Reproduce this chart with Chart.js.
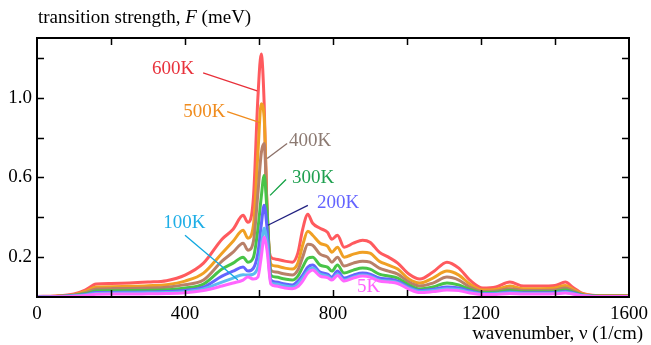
<!DOCTYPE html>
<html>
<head>
<meta charset="utf-8">
<script src="https://cdn.jsdelivr.net/npm/chart.js@4/dist/chart.umd.min.js"></script>
<style>
  html, body { margin: 0; padding: 0; background: #fff; }
  #wrap { width: 651px; height: 345px; }
</style>
</head>
<body>
<div id="wrap"><canvas id="spectra" width="651" height="345"></canvas></div>
<script>
// wavenumber grid (1/cm)
const wavenumbers = [0, 50, 100, 130, 160, 200, 250, 300, 350, 400, 450, 500, 530, 557, 570, 585, 597, 606, 614, 622,
  632, 645, 670, 690, 705, 718, 732, 745, 765, 785, 797, 812, 830, 855, 880, 900, 925, 950, 975, 1005,
  1035, 1070, 1108, 1140, 1170, 1205, 1240, 1278, 1315, 1360, 1400, 1428, 1447, 1475, 1500, 1550, 1600];

// transition strength F (meV) per temperature
const f600K = [0.003, 0.005, 0.015, 0.035, 0.065, 0.068, 0.07, 0.075, 0.082, 0.11, 0.17, 0.29, 0.34, 0.41, 0.375, 0.5, 1.0, 1.22, 0.97, 0.4,
  0.2, 0.19, 0.18, 0.175, 0.22, 0.34, 0.415, 0.37, 0.345, 0.325, 0.29, 0.31, 0.25, 0.27, 0.285, 0.275, 0.225, 0.2, 0.17, 0.115,
  0.09, 0.125, 0.175, 0.145, 0.085, 0.045, 0.05, 0.075, 0.055, 0.055, 0.058, 0.075, 0.05, 0.018, 0.009, 0.007, 0.007];
const f500K = [0.002, 0.004, 0.012, 0.028, 0.05, 0.052, 0.054, 0.057, 0.062, 0.08, 0.12, 0.22, 0.28, 0.335, 0.295, 0.36, 0.72, 0.97, 0.9, 0.43,
  0.165, 0.155, 0.145, 0.14, 0.17, 0.26, 0.33, 0.31, 0.27, 0.255, 0.225, 0.25, 0.2, 0.215, 0.225, 0.22, 0.18, 0.16, 0.14, 0.09,
  0.07, 0.095, 0.13, 0.11, 0.065, 0.035, 0.038, 0.055, 0.042, 0.042, 0.045, 0.058, 0.04, 0.015, 0.007, 0.006, 0.006];
const f400K = [0.002, 0.003, 0.01, 0.022, 0.04, 0.042, 0.043, 0.045, 0.049, 0.062, 0.085, 0.18, 0.225, 0.27, 0.235, 0.28, 0.52, 0.72, 0.77, 0.44,
  0.135, 0.125, 0.115, 0.11, 0.135, 0.2, 0.265, 0.26, 0.215, 0.2, 0.175, 0.2, 0.155, 0.17, 0.18, 0.175, 0.145, 0.13, 0.115, 0.075,
  0.055, 0.07, 0.1, 0.085, 0.05, 0.028, 0.03, 0.042, 0.033, 0.033, 0.035, 0.045, 0.032, 0.012, 0.006, 0.005, 0.005];
const f300K = [0.001, 0.002, 0.008, 0.016, 0.03, 0.031, 0.032, 0.033, 0.036, 0.045, 0.065, 0.14, 0.17, 0.2, 0.175, 0.2, 0.34, 0.5, 0.61, 0.42,
  0.11, 0.1, 0.09, 0.085, 0.105, 0.15, 0.195, 0.2, 0.16, 0.15, 0.13, 0.16, 0.12, 0.135, 0.145, 0.14, 0.115, 0.105, 0.095, 0.06,
  0.04, 0.05, 0.07, 0.06, 0.038, 0.022, 0.024, 0.032, 0.026, 0.026, 0.028, 0.035, 0.026, 0.01, 0.005, 0.004, 0.004];
const f200K = [0.001, 0.002, 0.006, 0.012, 0.022, 0.023, 0.024, 0.025, 0.027, 0.033, 0.05, 0.105, 0.13, 0.15, 0.13, 0.145, 0.22, 0.36, 0.46, 0.34,
  0.085, 0.075, 0.065, 0.06, 0.08, 0.11, 0.15, 0.16, 0.125, 0.115, 0.1, 0.13, 0.095, 0.11, 0.12, 0.115, 0.095, 0.09, 0.08, 0.05,
  0.032, 0.038, 0.05, 0.045, 0.03, 0.018, 0.019, 0.025, 0.021, 0.021, 0.022, 0.028, 0.021, 0.008, 0.004, 0.003, 0.003];
const f100K = [0.001, 0.001, 0.005, 0.01, 0.018, 0.019, 0.02, 0.021, 0.022, 0.027, 0.04, 0.075, 0.095, 0.112, 0.11, 0.115, 0.15, 0.25, 0.345, 0.27,
  0.072, 0.065, 0.055, 0.05, 0.065, 0.095, 0.13, 0.145, 0.115, 0.105, 0.09, 0.115, 0.085, 0.1, 0.11, 0.105, 0.085, 0.08, 0.072, 0.045,
  0.028, 0.033, 0.042, 0.038, 0.025, 0.015, 0.016, 0.021, 0.018, 0.018, 0.019, 0.024, 0.018, 0.007, 0.003, 0.003, 0.003];
const f5K = [0.0, 0.001, 0.004, 0.008, 0.014, 0.015, 0.015, 0.016, 0.017, 0.021, 0.033, 0.055, 0.07, 0.085, 0.1, 0.09, 0.1, 0.2, 0.3, 0.23,
  0.065, 0.055, 0.045, 0.042, 0.052, 0.08, 0.12, 0.135, 0.105, 0.097, 0.085, 0.108, 0.08, 0.095, 0.105, 0.1, 0.08, 0.075, 0.068, 0.04,
  0.022, 0.027, 0.035, 0.032, 0.02, 0.012, 0.013, 0.018, 0.015, 0.015, 0.016, 0.02, 0.015, 0.006, 0.003, 0.002, 0.002];

const temperatures = ['600K', '500K', '400K', '300K', '200K', '100K', '5K'];
const seriesValues = [f600K, f500K, f400K, f300K, f200K, f100K, f5K];
const lineColors = ['#ff5a5e', '#f0a024', '#b98068', '#48c448', '#6464ff', '#5cbcf0', '#ff66ff'];

const xTickValues = [200, 400, 600, 800, 1000, 1200, 1400];
const xTickLabels = [0, 400, 800, 1200, 1600];
const yTickValues = [0.2, 0.4, 0.6, 0.8, 1.0, 1.2];
const yTickLabels = [0.2, 0.6, 1.0];

// temperature labels with leader lines, in data units
const callouts = [
  { text: '600K', color: '#e8323c', at: [311, 1.145], line: [[449, 1.125], [595, 1.035]], lineColor: '#e8303a' },
  { text: '500K', color: '#f08c1e', at: [395, 0.93], line: [[514, 0.93], [603, 0.875]], lineColor: '#f08c1e' },
  { text: '400K', color: '#8c7a72', at: [681, 0.785], line: [[676, 0.77], [622, 0.695]], lineColor: '#8b7068' },
  { text: '300K', color: '#1fa050', at: [689, 0.595], line: [[673, 0.59], [630, 0.51]], lineColor: '#10a040' },
  { text: '200K', color: '#6464ff', at: [757, 0.47], line: [[732, 0.46], [624, 0.36]], lineColor: '#202080' },
  { text: '100K', color: '#1eaee6', at: [341, 0.37], line: [[400, 0.31], [543, 0.085]], lineColor: '#10a8e0' },
  { text: '5K', color: '#ff64ff', at: [865, 0.05], line: null }
];

const FONT = '"Liberation Serif", "Times New Roman", serif';

const framePlugin = {
  id: 'frame',
  afterDraw(chart) {
    const ctx = chart.ctx;
    const { left, right, top, bottom } = chart.chartArea;
    const xs = chart.scales.x, ys = chart.scales.y;
    ctx.save();
    ctx.strokeStyle = '#000';
    ctx.lineWidth = 2;
    ctx.strokeRect(left, top, right - left, bottom - top);
    ctx.lineWidth = 1.5;
    ctx.beginPath();
    xTickValues.forEach(v => {
      const px = Math.round(xs.getPixelForValue(v)) + 0.5;
      ctx.moveTo(px, bottom); ctx.lineTo(px, bottom - 7);
      ctx.moveTo(px, top); ctx.lineTo(px, top + 7);
    });
    yTickValues.forEach(v => {
      const py = Math.round(ys.getPixelForValue(v)) + 0.5;
      ctx.moveTo(left, py); ctx.lineTo(left + 7, py);
      ctx.moveTo(right, py); ctx.lineTo(right - 7, py);
    });
    ctx.stroke();

    // x tick labels
    ctx.fillStyle = '#000';
    ctx.font = '19px ' + FONT;
    ctx.textAlign = 'center';
    ctx.textBaseline = 'top';
    xTickLabels.forEach(v => ctx.fillText(String(v), xs.getPixelForValue(v), bottom + 8));

    // callouts
    ctx.textBaseline = 'middle';
    ctx.textAlign = 'left';
    callouts.forEach(c => {
      if (c.line) {
        ctx.strokeStyle = c.lineColor;
        ctx.lineWidth = 1.3;
        ctx.beginPath();
        ctx.moveTo(xs.getPixelForValue(c.line[0][0]), ys.getPixelForValue(c.line[0][1]));
        ctx.lineTo(xs.getPixelForValue(c.line[1][0]), ys.getPixelForValue(c.line[1][1]));
        ctx.stroke();
      }
      ctx.fillStyle = c.color;
      ctx.fillText(c.text, xs.getPixelForValue(c.at[0]), ys.getPixelForValue(c.at[1]));
    });

    // axis titles
    ctx.fillStyle = '#000';
    ctx.textBaseline = 'alphabetic';
    let x = 38;
    const yb = 23;
    const parts = [['transition strength, ', ''], ['F', 'italic '], [' (meV)', '']];
    parts.forEach(p => {
      ctx.font = p[1] + '19px ' + FONT;
      ctx.fillText(p[0], x, yb);
      x += ctx.measureText(p[0]).width;
    });
    ctx.font = '19px ' + FONT;
    ctx.textAlign = 'right';
    ctx.fillText('wavenumber, \u03bd (1/cm)', 643, 339);
    ctx.restore();
  }
};

new Chart(document.getElementById('spectra'), {
  type: 'line',
  data: {
    datasets: temperatures.map((t, i) => ({
      label: t,
      data: wavenumbers.map((w, j) => ({ x: w, y: seriesValues[i][j] })),
      borderColor: lineColors[i],
      borderWidth: 3,
      pointRadius: 0,
      fill: false,
      cubicInterpolationMode: 'monotone',
      order: temperatures.length - 1 - i
    })).reverse()
  },
  options: {
    responsive: false,
    animation: false,
    layout: { padding: { top: 38, right: 22, left: 0, bottom: 0 } },
    plugins: { legend: { display: false }, tooltip: { enabled: false } },
    scales: {
      x: {
        type: 'linear', min: 0, max: 1600,
        border: { display: false },
        grid: { display: false, drawTicks: false },
        afterFit(s) { s.height = 48; },
        ticks: { display: false }
      },
      y: {
        min: 0, max: 1.3,
        border: { display: false },
        grid: { display: false, drawTicks: false },
        afterFit(s) { s.width = 37; },
        afterBuildTicks(s) { s.ticks = yTickLabels.map(v => ({ value: v })); },
        ticks: {
          autoSkip: false, padding: 5, color: '#000',
          font: { family: FONT, size: 19 },
          callback: v => v.toFixed(1)
        }
      }
    }
  },
  plugins: [framePlugin]
});
</script>
</body>
</html>
